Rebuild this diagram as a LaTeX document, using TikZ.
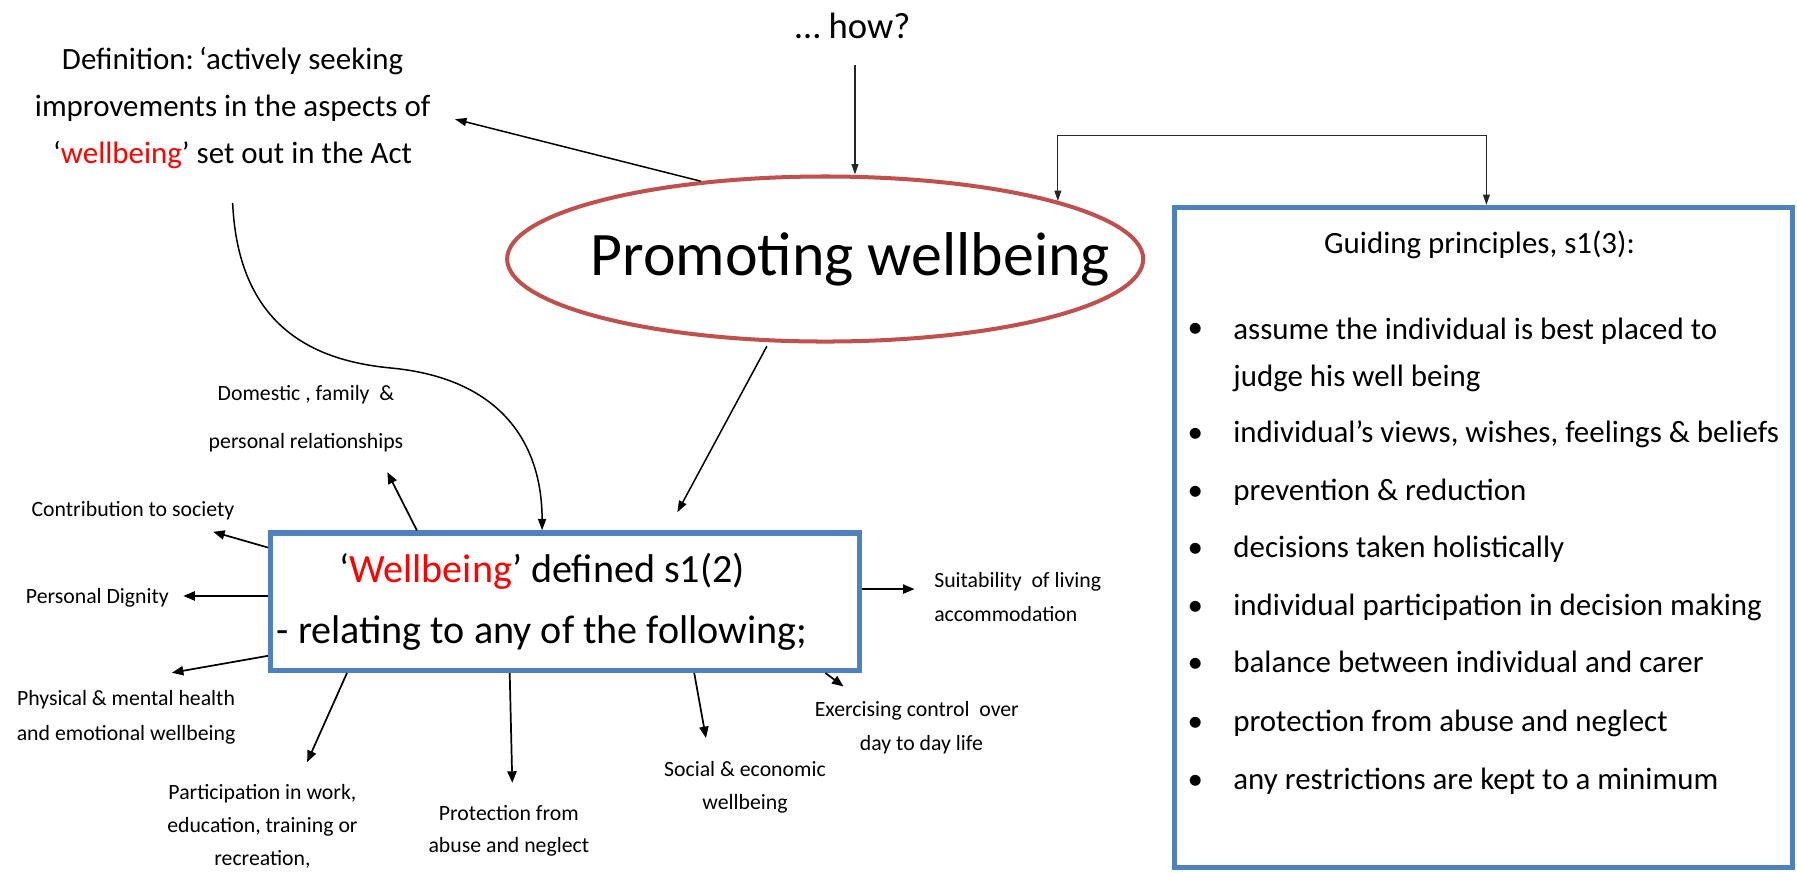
\documentclass[tikz,border=0pt]{standalone}
\usepackage{fontspec}
\setmainfont{Carlito}
\usetikzlibrary{shapes.geometric,arrows.meta}
\definecolor{boxblue}{HTML}{4F81BD}
\definecolor{ellred}{HTML}{C0504D}
\definecolor{wred}{HTML}{FF0000}
\begin{document}
\begin{tikzpicture}[x=1pt,y=-1pt,
  tip/.style={-{Triangle[length=10pt,width=7pt]}},
  arr/.style={line width=1.3pt, tip},
  thinarr/.style={line width=1pt, draw=black!85, -{Triangle[length=9pt,width=6pt]}},
  dblarr/.style={line width=1pt, draw=black!85, {Triangle[length=9pt,width=6pt]}-{Triangle[length=9pt,width=6pt]}},
  sarr/.style={line width=1.5pt, -{Triangle[length=10pt,width=8pt]}},
  lbl/.style={font=\fontsize{19}{29}\selectfont, align=center, inner sep=0pt},
  bul/.style={font=\fontsize{27}{41}\selectfont, anchor=west, align=left, inner sep=0pt, text height=0.62em, text depth=0.2em},
  bulmulti/.style={font=\fontsize{27}{41}\selectfont, anchor=west, align=left, inner sep=0pt},
  dot/.style={font=\fontsize{27}{41}\selectfont, inner sep=0pt, text height=0.62em, text depth=0.2em},
  boxst/.style={draw=boxblue, line width=4.5pt, inner sep=0pt}]
\useasboundingbox (0,0) rectangle (1568,761);

% top texts
\node[font=\fontsize{32}{38}\selectfont] (how) at (744,23) {… how?};
\node[font=\fontsize{27}{41}\selectfont, align=center] (def) at (203,94)
  {Definition:\,‘actively seeking\\improvements in the aspects of\\‘\textcolor{wred}{wellbeing}’ set out in the Act};

% ellipse
\node[ellipse, draw=ellred, line width=3.5pt, minimum width=555pt, minimum height=144pt, inner sep=0pt] (pw) at (720,226) {};
\node[font=\fontsize{54}{60}\selectfont, anchor=base, inner sep=0pt] (pwt) at (742,240) {Promoting wellbeing};

% right box
\node[boxst, minimum width=539pt, minimum height=576pt] (gp) at (1294.5,469) {};
\node[font=\fontsize{27}{32}\selectfont] (gph) at (1291,214) {Guiding principles, s1(3):};

\node[dot] (d1) at (1043,292) {•};
\node[bulmulti] (b1) at (1076,309.5) {assume the individual is best placed to\\judge his well being};
\node[dot] (d2) at (1043,384) {•};
\node[bul] (b2) at (1076,384) {individual’s views, wishes, feelings \& beliefs};
\node[dot] (d3) at (1043,435) {•};
\node[bul] (b3) at (1076,435) {prevention \& reduction};
\node[dot] (d4) at (1043,484) {•};
\node[bul] (b4) at (1076,484) {decisions taken holistically};
\node[dot] (d5) at (1043,535) {•};
\node[bul] (b5) at (1076,535) {individual participation in decision making};
\node[dot] (d6) at (1043,585) {•};
\node[bul] (b6) at (1076,585) {balance between individual and carer};
\node[dot] (d7) at (1043,636) {•};
\node[bul] (b7) at (1076,636) {protection from abuse and neglect};
\node[dot] (d8) at (1043,687) {•};
\node[bul] (b8) at (1076,687) {any restrictions are kept to a minimum};

% wellbeing box
\node[boxst, minimum width=514pt, minimum height=120pt] (wb) at (493,525) {};
\node[font=\fontsize{35}{53}\selectfont, align=center] (wbt) at (473,525)
  {‘\textcolor{wred}{Wellbeing}’ defined s1(2)\\- relating to any of the following;};

% small labels
\node[lbl, font=\fontsize{19}{42}\selectfont] (dom) at (267,365) {Domestic , family~~\&\\personal relationships};
\node[lbl] (con) at (116,446) {Contribution to society};
\node[lbl] (dig) at (85,522) {Personal Dignity};
\node[lbl, font=\fontsize{19}{30}\selectfont] (phy) at (110,626) {Physical \& mental health\\and emotional wellbeing};
\node[lbl, font=\fontsize{19}{28.5}\selectfont] (par) at (229,721) {Participation in work,\\education, training or\\recreation,};
\node[lbl, font=\fontsize{19}{28}\selectfont] (pro) at (444,725) {Protection from\\abuse and neglect};
\node[lbl] (soc) at (650,687) {Social \& economic\\wellbeing};
\node[lbl] (exe) at (800,635) {Exercising control~~over\\\hspace*{8pt}day to day life};
\node[lbl, align=left, anchor=west, font=\fontsize{19}{30}\selectfont] (sui) at (815,521) {Suitability~~of living\\accommodation};

% connectors
\coordinate (howtail) at (746,57);
\draw[thinarr] (howtail) -- (howtail |- pw.north);

\coordinate (defin) at (397,104);
\draw[arr] (pw.148) -- (defin);

\coordinate (brR) at (1297,118);
\draw[dblarr] (pw.14) |- (brR) -- (brR |- gp.north);

\coordinate (pwin) at (591,447);
\draw[arr, shorten <=4pt] (pw.236) -- (pwin);

\coordinate (dcs) at (203,177);
\coordinate (cx) at (473,0);
\draw[arr] (dcs) .. controls (208,290) and (280,315) .. (340,321)
  .. controls (440,330) and (473,390) .. (cx |- wb.north);

\coordinate (domtip) at (338,412);
\coordinate (contip) at (186,464);
\coordinate (digtip) at (160,520);
\coordinate (phytip) at (150,587);
\coordinate (partip) at (268,665);
\coordinate (protip) at (447,683);
\coordinate (soctip) at (616,644);
\coordinate (exetip) at (736,599);
\coordinate (suitip) at (798,514);

\draw[sarr] ([xshift=130pt]wb.north west) -- (domtip);
\draw[sarr] ([yshift=-15pt]wb.north west) -- (contip);
\draw[sarr] ([yshift=5pt]wb.west) -- (digtip);
\draw[sarr] ([yshift=15pt]wb.south west) -- (phytip);
\draw[sarr] ([xshift=69pt]wb.south west) -- (partip);
\draw[sarr] ([xshift=211pt]wb.south west) -- (protip);
\draw[sarr] ([xshift=372pt]wb.south west) -- (soctip);
\draw[sarr] ([xshift=-32pt]wb.south east) -- (exetip);
\draw[sarr] ([yshift=11pt]wb.east) -- (suitip);
\end{tikzpicture}
\end{document}
